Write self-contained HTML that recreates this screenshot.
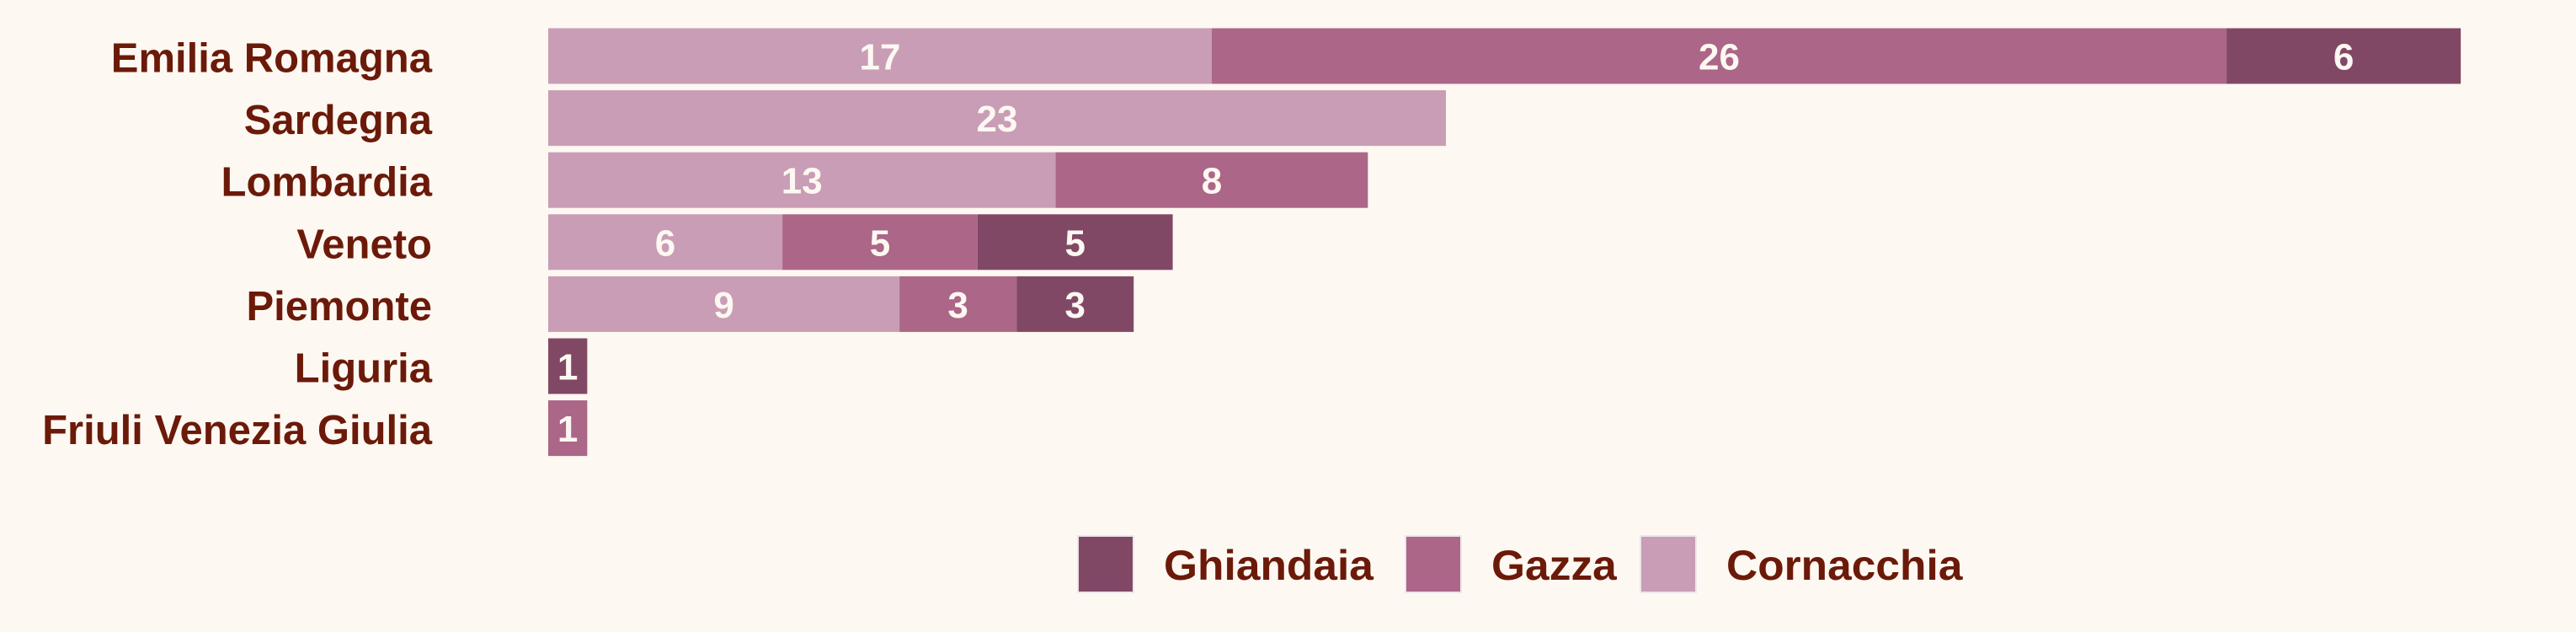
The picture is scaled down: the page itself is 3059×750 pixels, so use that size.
<!DOCTYPE html>
<html><head><meta charset="utf-8"><style>
html,body{margin:0;padding:0;background:#fdf8f1;}
svg{display:block;}
</style></head><body>
<svg id="chart" width="3059" height="750" xmlns="http://www.w3.org/2000/svg">
<rect x="0" y="0" width="3059" height="750" fill="#fdf8f1"/>
<g id="bars"></g>
<g id="labels"></g>
<g id="legend"></g>
</svg>
<script>
const categories = ["Emilia Romagna","Sardegna","Lombardia","Veneto","Piemonte","Liguria","Friuli Venezia Giulia"];
const cornacchia = [17,23,13,6,9,0,0];
const gazza = [26,0,8,5,3,0,1];
const ghiandaia = [6,0,0,5,3,1,0];
const seriesNames = ["Cornacchia","Gazza","Ghiandaia"];
const legendOrder = ["Ghiandaia","Gazza","Cornacchia"];

const NS="http://www.w3.org/2000/svg";
const colors={Cornacchia:"#c99db6",Gazza:"#ab6688",Ghiandaia:"#814866"};
const seriesData={Cornacchia:cornacchia,Gazza:gazza,Ghiandaia:ghiandaia};
const x0=651, unit=46.35;
function xScale(v){return x0+v*unit;}
const rowTop=33.5, pitch=73.6, barH=66;
function yScale(i){return rowTop+i*pitch;}

const barsG=document.getElementById('bars');
const labelsG=document.getElementById('labels');
const legendG=document.getElementById('legend');

categories.forEach((cat,i)=>{
  let acc=0;
  const y=yScale(i);
  seriesNames.forEach(s=>{
    const v=seriesData[s][i];
    if(!v) return;
    const r=document.createElementNS(NS,'rect');
    
    
    r.setAttribute('x',xScale(acc));
    r.setAttribute('y',y);
    r.setAttribute('width',xScale(acc+v)-xScale(acc));
    r.setAttribute('height',barH);
    r.setAttribute('fill',colors[s]);
    barsG.appendChild(r);
    const t=document.createElementNS(NS,'text');
    
    
    t.setAttribute('x',(xScale(acc)+xScale(acc+v))/2);
    t.setAttribute('y',y+barH/2+16);
    t.setAttribute('text-anchor','middle');
    t.setAttribute('font-family','Liberation Sans, Arial, sans-serif');
    t.setAttribute('font-weight','bold');
    t.setAttribute('font-size','44');
    t.setAttribute('fill','#fdf8f1');
    t.textContent=v;
    barsG.appendChild(t);
    acc+=v;
  });
  const l=document.createElementNS(NS,'text');
  
  
  l.setAttribute('transform','translate(513,'+(y+barH/2+19)+') scale(1.0,1)');
  l.setAttribute('text-anchor','end');
  l.setAttribute('font-family','Liberation Sans, Arial, sans-serif');
  l.setAttribute('font-weight','bold');
  l.setAttribute('font-size','49');
  l.setAttribute('fill','#6b1a0a');
  l.textContent=cat;
  labelsG.appendChild(l);
});

const legendX=[1280,1669,1948];
legendOrder.forEach((s,k)=>{
  const g=document.createElementNS(NS,'g');
  
  
  const r=document.createElementNS(NS,'rect');
  
  
  r.setAttribute('x',legendX[k]);r.setAttribute('y',636);
  r.setAttribute('width',66);r.setAttribute('height',67);
  r.setAttribute('fill',colors[s]);
  r.setAttribute('stroke','#ece6ea');r.setAttribute('stroke-width','2');
  g.appendChild(r);
  const t=document.createElementNS(NS,'text');
  
  
  t.setAttribute('transform','translate('+(legendX[k]+102)+',688) scale(1.03,1)');
  t.setAttribute('font-family','Liberation Sans, Arial, sans-serif');
  t.setAttribute('font-weight','bold');
  t.setAttribute('font-size','50');
  t.setAttribute('fill','#6b1a0a');
  t.textContent=s;
  g.appendChild(t);
  legendG.appendChild(g);
});
</script>
</body></html>
